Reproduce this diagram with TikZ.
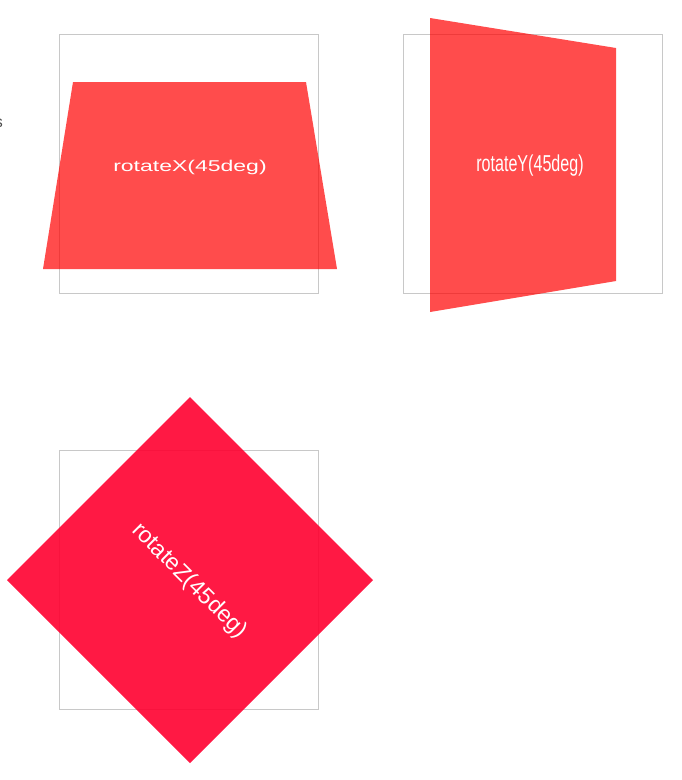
\documentclass[tikz,border=0pt]{standalone}
\usepackage{fontspec}
\setmainfont{Liberation Sans}
\definecolor{framegray}{RGB}{200,200,200}
\definecolor{xyred}{RGB}{255,0,0}
\definecolor{zred}{RGB}{255,0,48}
\begin{document}
\begin{tikzpicture}[x=1pt,y=-1pt,
    frame/.style={draw=framegray, line width=1pt},
    plane/.style={fill=xyred, fill opacity=0.7},
    zplane/.style={fill=zred, fill opacity=0.9},
    label/.style={text=white, inner sep=0pt, font=\fontsize{23}{27}\selectfont}]
    \useasboundingbox (0,0) rectangle (682,780);
    % untransformed boxes
    \draw [frame] (59.5,34.5) rectangle (318.5,293.5);
    \draw [frame] (403.5,34.5) rectangle (662.5,293.5);
    \draw [frame] (59.5,450.5) rectangle (318.5,709.5);
    % rotated planes
    \fill [plane] (73,82)--(306,82)--(337,269)--(43,269)--cycle;
    \fill [plane] (430,18)--(616,48)--(616,281)--(430,312)--cycle;
    \fill [zplane] (190,397)--(373,580)--(190,763)--(7,580)--cycle;
    \node [label, yscale=0.68] (labX) at (190,167) {rotateX(45deg)};
    \node [label, xscale=0.7] (labY) at (530,166) {rotateY(45deg)};
    \node [label, rotate=-45] (labZ) at (189,581) {rotateZ(45deg)};
    \node [anchor=east, inner sep=0pt, text=black!70, font=\fontsize{16}{19}\selectfont] (cut) at (3,123) {s};
\end{tikzpicture}
\end{document}
